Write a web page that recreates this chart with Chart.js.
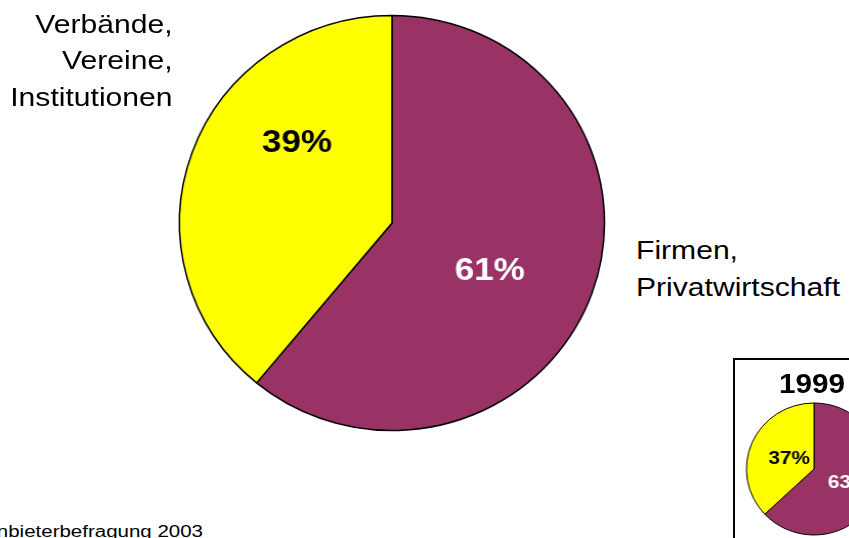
<!DOCTYPE html>
<html lang="de">
<head>
<meta charset="utf-8">
<script src="https://cdn.jsdelivr.net/npm/chart.js@4.4.1/dist/chart.umd.min.js"></script>
<style>
  html, body {
    margin: 0;
    padding: 0;
    background: #fff;
  }
  body {
    position: relative;
    width: 849px;
    height: 538px;
    overflow: hidden;
    font-family: "Liberation Sans", Arial, sans-serif;
    color: #000;
  }
  .abs { position: absolute; }
  canvas { position: absolute; transform: scaleX(1.024); transform-origin: center center; }
  .cat {
    font-size: 25.5px;
    line-height: 36.6px;
    white-space: nowrap;
  }
  #label-verbaende { transform: scaleX(1.18); transform-origin: right top; }
  #label-firmen { transform: scaleX(1.18); transform-origin: left top; }
  #inset-box {
    left: 733px;
    top: 358px;
    width: 200px;
    height: 300px;
    border: 2px solid #000;
  }
  #inset-year {
    font-size: 28px;
    font-weight: bold;
    line-height: 28px;
    transform: scaleX(1.06);
    transform-origin: left top;
  }
  #source {
    font-size: 16px;
    line-height: 16px;
    white-space: nowrap;
    text-align: right;
    transform: scaleX(1.28);
    transform-origin: right top;
  }
</style>
</head>
<body>

<div id="inset-box" class="abs"></div>

<canvas id="pie2003" width="440" height="440" style="left:172px; top:2.5px;"></canvas>
<canvas id="pie1999" width="160" height="160" style="left:734px; top:389px;"></canvas>

<div id="label-verbaende" class="abs cat" style="right:676px; top:5.5px; text-align:right;"></div>
<div id="label-firmen" class="abs cat" style="left:636px; top:232px; text-align:left;"></div>
<div id="inset-year" class="abs" style="left:779px; top:369.5px;"></div>
<div id="source" class="abs" style="right:646px; top:523.5px;"></div>

<script>
// Category names (line breaks as drawn beside the pie)
const categories = ['Firmen,\nPrivatwirtschaft', 'Verbände,\nVereine,\nInstitutionen'];

// Shares in percent, same order as categories
const shares2003 = [61, 39];
const shares1999 = [63, 37];

const insetYear = '1999';
const sourceNote = 'Quelle: Anbieterbefragung 2003';

const sliceColors = ['#993366', '#FFFF00'];
const labelColors = ['#FFFFFF', '#000000'];

// Percent text inside each slice, placed relative to the pie centre
const sliceLabels = {
    id: 'sliceLabels',
    afterDatasetsDraw(chart, args, opts) {
        const ctx = chart.ctx;
        const meta = chart.getDatasetMeta(0);
        const values = chart.data.datasets[0].data;
        meta.data.forEach((arc, i) => {
            const [dx, dy] = opts.offsets[i];
            ctx.save();
            ctx.translate(arc.x + dx, arc.y + dy);
            ctx.scale(opts.stretch, 1);
            ctx.font = `bold ${opts.size}px "Liberation Sans", Arial, sans-serif`;
            ctx.textAlign = 'center';
            ctx.textBaseline = 'alphabetic';
            ctx.fillStyle = labelColors[i];
            ctx.fillText(values[i] + '%', 0, 0);
            ctx.restore();
        });
    }
};

function makePie(canvasId, values, radius, borderWidth, labelOpts) {
    const ctx = document.getElementById(canvasId).getContext('2d');
    return new Chart(ctx, {
        type: 'pie',
        data: {
            labels: categories,
            datasets: [{
                data: values,
                backgroundColor: sliceColors,
                borderColor: '#000',
                borderWidth: borderWidth,
                radius: radius
            }]
        },
        options: {
            responsive: false,
            animation: false,
            events: [],
            layout: { padding: 0 },
            plugins: {
                legend: { display: false },
                tooltip: { enabled: false },
                sliceLabels: labelOpts
            }
        },
        plugins: [sliceLabels]
    });
}

function init() {
    makePie('pie2003', shares2003, 207.5, 1.5, {
        size: 32,
        stretch: 1.07,
        offsets: [[95.4, 56.5], [-92.8, -70.8]]
    });
    makePie('pie1999', shares1999, 66, 1, {
        size: 19,
        stretch: 1.07,
        offsets: [[33.9, 19], [-24.2, -5]]
    });

    document.getElementById('label-firmen').innerText = categories[0];
    document.getElementById('label-verbaende').innerText = categories[1];
    document.getElementById('inset-year').textContent = insetYear;
    document.getElementById('source').textContent = sourceNote;
}

window.onload = init;
</script>
</body>
</html>
